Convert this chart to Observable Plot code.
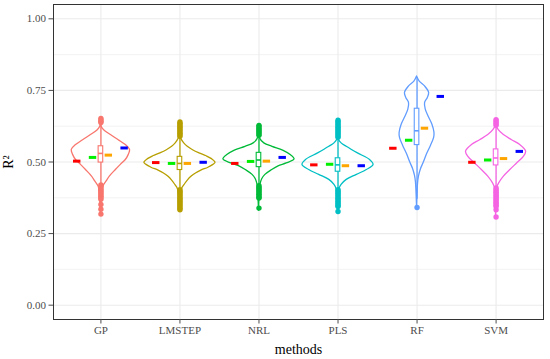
<!DOCTYPE html>
<html>
<head>
<meta charset="utf-8">
<script src="https://cdn.jsdelivr.net/npm/d3@7"></script>
<script src="https://cdn.jsdelivr.net/npm/@observablehq/plot@0.6"></script>
<style>
  html, body { margin: 0; padding: 0; background: #fff; }
  #chart svg { display: block; }
</style>
</head>
<body>
<div id="chart"></div>
<script>
// ---- data ----
const methods = ["GP", "LMSTEP", "NRL", "PLS", "RF", "SVM"];
const methodColors = ["#F8766D", "#B79F00", "#00BA38", "#00BFC4", "#619CFF", "#F564E3"];
const yTicks = [0, 0.25, 0.5, 0.75, 1];
const yMinor = [0.125, 0.375, 0.625, 0.875];

// violin profiles: [R2 value, relative density]
const violinGP = [[0.318,0],[0.35,0.015],[0.39,0.03],[0.414,0.065],[0.432,0.16],[0.449,0.25],[0.472,0.42],[0.49,0.56],[0.507,0.70],[0.524,0.78],[0.542,0.82],[0.559,0.70],[0.576,0.50],[0.594,0.28],[0.611,0.09],[0.623,0.02],[0.652,0]];
const violinLMSTEP = [[0.333,0],[0.36,0.01],[0.39,0.03],[0.409,0.07],[0.42,0.13],[0.435,0.22],[0.449,0.33],[0.46,0.45],[0.47,0.60],[0.48,0.80],[0.49,0.94],[0.4976,1.0],[0.51,0.90],[0.52,0.75],[0.53,0.55],[0.54,0.38],[0.553,0.22],[0.565,0.12],[0.58,0.04],[0.60,0.01],[0.64,0]];
const violinNRL = [[0.33,0],[0.39,0.02],[0.42,0.04],[0.44,0.09],[0.455,0.18],[0.472,0.37],[0.485,0.55],[0.495,0.78],[0.509,1.0],[0.525,0.88],[0.54,0.68],[0.553,0.38],[0.565,0.15],[0.58,0.04],[0.60,0.01],[0.628,0]];
const violinPLS = [[0.327,0],[0.37,0.015],[0.405,0.04],[0.42,0.10],[0.4375,0.245],[0.455,0.53],[0.472,0.81],[0.49,1.0],[0.507,0.90],[0.53,0.56],[0.553,0.245],[0.565,0.10],[0.576,0.03],[0.60,0.01],[0.646,0]];
const violinRF = [[0.341,0],[0.393,0.015],[0.428,0.03],[0.451,0.056],[0.475,0.11],[0.498,0.19],[0.527,0.28],[0.556,0.39],[0.584,0.48],[0.602,0.49],[0.631,0.43],[0.66,0.32],[0.683,0.245],[0.706,0.225],[0.723,0.30],[0.741,0.34],[0.764,0.225],[0.781,0.076],[0.799,0]];
const violinSVM = [[0.308,0],[0.36,0.01],[0.409,0.03],[0.426,0.09],[0.449,0.22],[0.472,0.40],[0.495,0.59],[0.518,0.78],[0.536,0.845],[0.559,0.68],[0.576,0.45],[0.594,0.22],[0.611,0.076],[0.628,0.01],[0.648,0]];
const violins = [violinGP, violinLMSTEP, violinNRL, violinPLS, violinRF, violinSVM];

// boxplot statistics
const boxQ1  = [0.498, 0.472, 0.482, 0.466, 0.559, 0.488];
const boxMed = [0.530, 0.495, 0.507, 0.490, 0.609, 0.514];
const boxQ3  = [0.555, 0.518, 0.532, 0.513, 0.686, 0.544];
const whiskLo = [0.420, 0.409, 0.417, 0.403, 0.370, 0.409];
const whiskHi = [0.636, 0.587, 0.593, 0.585, 0.795, 0.628];

// outlier points
const outGP = [0.652, 0.647, 0.642, 0.638, 0.420, 0.415, 0.410, 0.405, 0.400, 0.395, 0.390, 0.385, 0.380, 0.375, 0.370, 0.352, 0.335, 0.318];
const outLMSTEP = [0.640, 0.635, 0.630, 0.625, 0.620, 0.615, 0.610, 0.605, 0.600, 0.595, 0.590, 0.403, 0.398, 0.393, 0.388, 0.383, 0.378, 0.373, 0.368, 0.363, 0.358, 0.353, 0.348, 0.343, 0.338, 0.333];
const outNRL = [0.628, 0.623, 0.618, 0.613, 0.608, 0.603, 0.598, 0.593, 0.417, 0.412, 0.407, 0.402, 0.397, 0.392, 0.387, 0.382, 0.377, 0.374, 0.339];
const outPLS = [0.646, 0.641, 0.636, 0.631, 0.626, 0.621, 0.616, 0.611, 0.606, 0.601, 0.596, 0.591, 0.586, 0.403, 0.398, 0.393, 0.388, 0.383, 0.378, 0.373, 0.368, 0.363, 0.358, 0.353, 0.348, 0.345, 0.327];
const outRF = [0.341];
const outSVM = [0.648, 0.643, 0.638, 0.633, 0.628, 0.409, 0.404, 0.399, 0.394, 0.389, 0.384, 0.379, 0.374, 0.369, 0.364, 0.359, 0.354, 0.349, 0.345, 0.333, 0.308];
const outliers = [outGP, outLMSTEP, outNRL, outPLS, outRF, outSVM];

// coloured reference dashes
const dashRed    = [0.503, 0.498, 0.495, 0.490, 0.548, 0.499];
const dashGreen  = [0.516, 0.495, 0.502, 0.492, 0.576, 0.507];
const dashOrange = [0.524, 0.495, 0.503, 0.487, 0.618, 0.512];
const dashBlue   = [0.549, 0.499, 0.516, 0.487, 0.729, 0.537];

// ---- build tables ----
const VW = 0.45;   // max half-width of violin in category units
const BW = 0.029;  // half-width of box
const DL = 0.047;  // half-length of dashes

const violinRows = [];
violins.forEach((prof, i) => {
  prof.forEach(([v, d]) => violinRows.push({m: methods[i], i: i + 1, v, x1: i + 1 - d * VW, x2: i + 1 + d * VW}));
});
const boxRows = methods.map((m, i) => ({m, i: i + 1, q1: boxQ1[i], med: boxMed[i], q3: boxQ3[i], lo: whiskLo[i], hi: whiskHi[i]}));
const outRows = [];
outliers.forEach((arr, i) => arr.forEach(v => outRows.push({m: methods[i], i: i + 1, v})));

const dashSets = [
  {vals: dashRed, off: -0.3, color: "#FF0000"},
  {vals: dashGreen, off: -0.1, color: "#00F000"},
  {vals: dashOrange, off: 0.1, color: "#FFA500"},
  {vals: dashBlue, off: 0.3, color: "#0000FF"}
];
const dashMarks = dashSets.map(s => Plot.ruleY(s.vals.map((v, i) => ({i: i + 1, v})), {
  x1: d => d.i + s.off - DL, x2: d => d.i + s.off + DL, y: "v", stroke: s.color, strokeWidth: 3
}));

const font = "'Liberation Serif', 'Times New Roman', serif";

const chart = Plot.plot({
  width: 550,
  height: 359,
  marginLeft: 53,
  marginRight: 7,
  marginTop: 4,
  marginBottom: 40,
  style: {fontFamily: font, background: "#fff"},
  x: {type: "linear", domain: [0.4, 6.6]},
  y: {domain: [-0.05, 1.05]},
  color: {domain: methods, range: methodColors},
  marks: [
    Plot.ruleY(yMinor, {stroke: "#EBEBEB", strokeWidth: 0.6}),
    Plot.ruleY(yTicks, {stroke: "#EBEBEB", strokeWidth: 1.1}),
    Plot.ruleX(methods.map((m, i) => i + 1), {stroke: "#EBEBEB", strokeWidth: 1.1}),
    Plot.areaX(violinRows, {y: "v", x1: "x1", x2: "x2", z: "m", fill: "none", stroke: "m", strokeWidth: 1.3, curve: "catmull-rom"}),
    Plot.ruleX(boxRows, {x: "i", y1: "lo", y2: "q1", stroke: "m", strokeWidth: 1.3}),
    Plot.ruleX(boxRows, {x: "i", y1: "q3", y2: "hi", stroke: "m", strokeWidth: 1.3}),
    Plot.rect(boxRows, {x1: d => d.i - BW, x2: d => d.i + BW, y1: "q1", y2: "q3", fill: "white", stroke: "m", strokeWidth: 1.1}),
    Plot.ruleY(boxRows, {x1: d => d.i - BW, x2: d => d.i + BW, y: "med", stroke: "m", strokeWidth: 1.6}),
    Plot.dot(outRows, {x: "i", y: "v", r: 2.7, fill: "m", stroke: "none"}),
    ...dashMarks,
    Plot.frame({stroke: "#333333", strokeWidth: 1}),
    Plot.axisY({ticks: yTicks, tickFormat: d3.format(".2f"), tickSize: 4.5, tickPadding: 3, fontSize: 11, color: "#4D4D4D", label: null}),
    Plot.axisX({ticks: [1, 2, 3, 4, 5, 6], tickFormat: d => methods[d - 1], tickSize: 4.5, tickPadding: 2.5, fontSize: 11, color: "#4D4D4D", label: null}),
    Plot.text(["methods"], {frameAnchor: "bottom", dy: 30, lineAnchor: "middle", fontSize: 14, fill: "#000"}),
    Plot.text(["R²"], {frameAnchor: "left", dx: -45, rotate: -90, lineAnchor: "middle", textAnchor: "middle", fontSize: 14, fill: "#000"})
  ]
});
document.getElementById("chart").appendChild(chart);
</script>
</body>
</html>
